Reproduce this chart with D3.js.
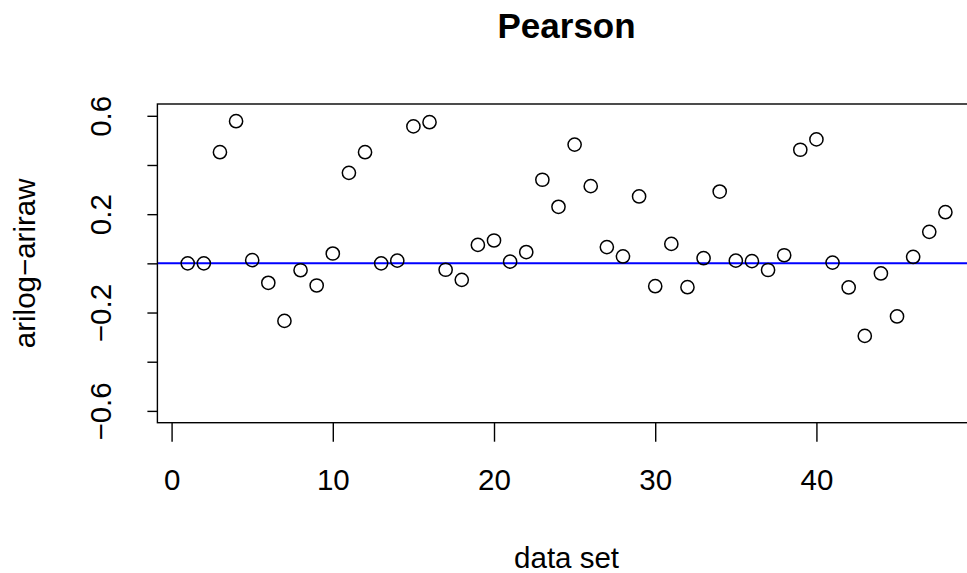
<!DOCTYPE html>
<html>
<head>
<meta charset="utf-8">
<script src="https://cdn.jsdelivr.net/npm/d3@7"></script>
<style>
  body { margin: 0; background: #fff; }
  svg text { font-family: "Liberation Sans", Arial, sans-serif; }
</style>
</head>
<body>
<svg id="chart" width="967" height="573"></svg>
<script>
// data set index and the arilog - ariraw difference
var dataSet = [1, 2, 3, 4, 5, 6, 7, 8, 9, 10, 11, 12, 13, 14, 15, 16,
  17, 18, 19, 20, 21, 22, 23, 24, 25, 26, 27, 28, 29, 30, 31, 32,
  33, 34, 35, 36, 37, 38, 39, 40, 41, 42, 43, 44, 45, 46, 47, 48];
var diff = [0.000, 0.000, 0.452, 0.578, 0.013, -0.079, -0.234, -0.028, -0.090, 0.040,
  0.368, 0.452, 0.000, 0.011, 0.557, 0.574, -0.026, -0.067, 0.075, 0.093,
  0.007, 0.046, 0.340, 0.230, 0.483, 0.314, 0.066, 0.028, 0.272, -0.093,
  0.079, -0.097, 0.021, 0.292, 0.011, 0.009, -0.027, 0.033, 0.462, 0.504,
  0.003, -0.098, -0.295, -0.041, -0.216, 0.026, 0.128, 0.208];
var xTicks = [0, 10, 20, 30, 40];
var yTicks = [-0.6, -0.4, -0.2, 0, 0.2, 0.4, 0.6];
var yLabelled = [-0.6, -0.2, 0.2, 0.6];
var refLine = [0];

// plot region (window.top is reserved, so prefixed names)
var pLeft = 157.4, pRight = 975.7, pTop = 104, pBottom = 422.7;

var svg = d3.select("#chart");

var x = d3.scaleLinear().domain([-0.88, 49.88]).range([pLeft, pRight]);
var y = d3.scaleLinear().domain([-0.648, 0.648]).range([pBottom, pTop]);
var fmt = d3.format(".1f");

svg.append("defs").append("clipPath").attr("id", "plotclip")
  .append("rect").attr("x", pLeft).attr("y", pTop)
  .attr("width", pRight - pLeft).attr("height", pBottom - pTop);

// reference line at 0
svg.append("g").attr("clip-path", "url(#plotclip)")
  .selectAll("line").data(refLine).enter().append("line")
  .attr("x1", pLeft).attr("x2", pRight)
  .attr("y1", d => y(d)).attr("y2", d => y(d))
  .attr("stroke", "#0000ff").attr("stroke-width", 2);

// points
svg.append("g").selectAll("circle").data(dataSet).enter().append("circle")
  .attr("cx", d => x(d))
  .attr("cy", (d, i) => y(diff[i]))
  .attr("r", 6.6)
  .attr("fill", "none")
  .attr("stroke", "#000")
  .attr("stroke-width", 1.5);

// box
svg.append("rect")
  .attr("x", pLeft).attr("y", pTop)
  .attr("width", pRight - pLeft).attr("height", pBottom - pTop)
  .attr("fill", "none").attr("stroke", "#000").attr("stroke-width", 1.4);

// x axis
var xAxis = svg.append("g").attr("transform", "translate(0," + pBottom + ")")
  .call(d3.axisBottom(x).tickValues(xTicks).tickSizeInner(19).tickSizeOuter(0).tickPadding(27));
xAxis.select(".domain").remove();
xAxis.selectAll(".tick line").attr("stroke", "#000").attr("stroke-width", 1.4);
xAxis.selectAll("text").style("font-size", "29.5px").attr("fill", "#000");

// y axis
var yAxis = svg.append("g").attr("transform", "translate(" + pLeft + ",0)")
  .call(d3.axisLeft(y).tickValues(yTicks).tickSize(10)
    .tickFormat(d => yLabelled.some(v => Math.abs(v - d) < 1e-9) ? fmt(d) : ""));
yAxis.select(".domain").remove();
yAxis.selectAll(".tick line").attr("stroke", "#000").attr("stroke-width", 1.4);
yAxis.selectAll("text")
  .attr("x", null).attr("dy", null)
  .attr("transform", "translate(-46,0) rotate(-90)")
  .attr("text-anchor", "middle")
  .style("font-size", "29.5px").attr("fill", "#000");

// titles
svg.append("text").attr("x", (pLeft + pRight) / 2).attr("y", 38)
  .attr("text-anchor", "middle").style("font-size", "35px").style("font-weight", "bold")
  .text("Pearson");

svg.append("text").attr("x", (pLeft + pRight) / 2).attr("y", 568)
  .attr("text-anchor", "middle").style("font-size", "29.5px")
  .text("data set");

svg.append("text")
  .attr("transform", "translate(35," + (pTop + pBottom) / 2 + ") rotate(-90)")
  .attr("text-anchor", "middle").style("font-size", "29.5px")
  .text("arilog\u2212ariraw");
</script>
</body>
</html>
